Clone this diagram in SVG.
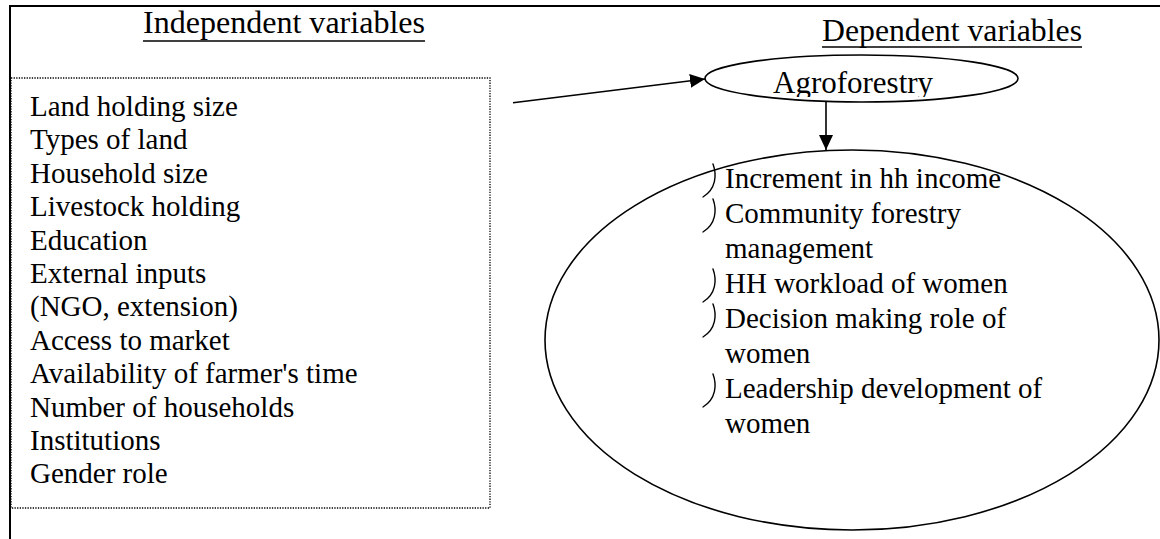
<svg xmlns="http://www.w3.org/2000/svg" width="1160" height="539" viewBox="0 0 1160 539">
<style>
  text { font-family: "Liberation Serif", "Times New Roman", serif; fill: #000; }
  .title { font-size: 31px; }
  .item { font-size: 29px; }
  .ln { stroke: #000; stroke-width: 1.6; fill: none; }
  .bul { stroke: #000; stroke-width: 1.4; fill: none; stroke-linecap: round; }
</style>
<defs>
  <marker id="ah" viewBox="0 0 15 14" refX="15" refY="7" markerWidth="15" markerHeight="14" markerUnits="userSpaceOnUse" orient="auto">
    <path d="M0,0 L15,7 L0,14 Z" fill="#000"/>
  </marker>
  <clipPath id="agclip"><rect x="700" y="50" width="330" height="47"/></clipPath>
</defs>
<rect width="1160" height="539" fill="#fff"/>

<g id="frame">
  <line x1="10" y1="6" x2="1160" y2="6" stroke="#000" stroke-width="2"/>
  <line x1="10" y1="5" x2="10" y2="539" stroke="#000" stroke-width="2"/>
</g>

<g id="independent-title">
  <text class="title" x="143" y="33" textLength="282" lengthAdjust="spacingAndGlyphs">Independent variables</text>
  <line x1="143" y1="41" x2="425" y2="41" stroke="#000" stroke-width="1.4"/>
</g>

<g id="dependent-title">
  <text class="title" x="822" y="41" textLength="260" lengthAdjust="spacingAndGlyphs">Dependent variables</text>
  <line x1="822" y1="47" x2="1082" y2="47" stroke="#000" stroke-width="1.4"/>
</g>

<g id="independent-box">
  <rect x="11" y="78" width="479" height="430" fill="none" stroke="#000" stroke-width="1.3" stroke-dasharray="1.3 1.3"/>
  <text class="item" x="30" y="116">Land holding size</text>
  <text class="item" x="30" y="149.4">Types of land</text>
  <text class="item" x="30" y="182.8">Household size</text>
  <text class="item" x="30" y="216.2">Livestock holding</text>
  <text class="item" x="30" y="249.6">Education</text>
  <text class="item" x="30" y="283">External inputs</text>
  <text class="item" x="30" y="316.4">(NGO, extension)</text>
  <text class="item" x="30" y="349.8">Access to market</text>
  <text class="item" x="30" y="383.2">Availability of farmer's time</text>
  <text class="item" x="30" y="416.6">Number of households</text>
  <text class="item" x="30" y="450">Institutions</text>
  <text class="item" x="30" y="483.4">Gender role</text>
</g>

<g id="agroforestry">
  <ellipse cx="861.5" cy="78.5" rx="156.5" ry="23.5" class="ln"/>
  <text class="title" x="773" y="93" clip-path="url(#agclip)">Agroforestry</text>
</g>

<g id="dependent-ellipse">
  <ellipse cx="852" cy="340" rx="307" ry="190" class="ln"/>
  <path class="bul" d="M713,164 C717,175 716,189 703,197"/>
  <text class="item" x="725" y="188">Increment in hh income</text>
  <path class="bul" d="M713,199 C717,210 716,224 703,232"/>
  <text class="item" x="725" y="223">Community forestry</text>
  <text class="item" x="725" y="258">management</text>
  <path class="bul" d="M713,269 C717,280 716,294 703,302"/>
  <text class="item" x="725" y="293">HH workload of women</text>
  <path class="bul" d="M713,304 C717,315 716,329 703,337"/>
  <text class="item" x="725" y="328">Decision making role of</text>
  <text class="item" x="725" y="363">women</text>
  <path class="bul" d="M713,374 C717,385 716,399 703,407"/>
  <text class="item" x="725" y="398">Leadership development of</text>
  <text class="item" x="725" y="433">women</text>
</g>

<g id="connectors">
  <line x1="513" y1="102.7" x2="705" y2="79" class="ln" marker-end="url(#ah)"/>
  <line x1="826" y1="102" x2="826" y2="150" class="ln" marker-end="url(#ah)"/>
</g>
</svg>
